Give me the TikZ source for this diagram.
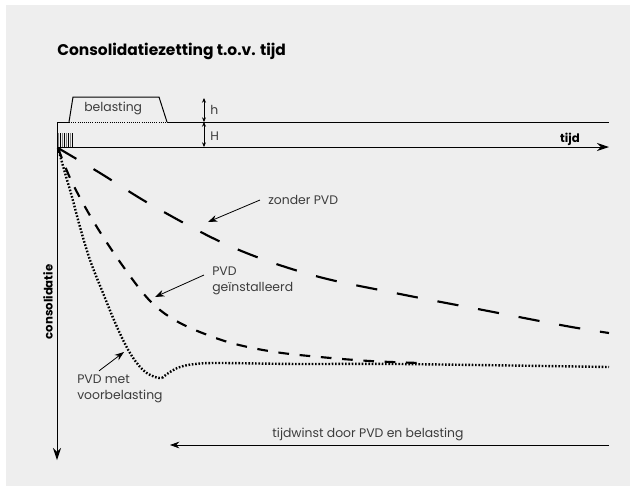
\documentclass[tikz,border=0pt]{standalone}
\usepackage{fontspec}
\setmainfont{Poppins}
\usetikzlibrary{arrows.meta}

\definecolor{bggray}{RGB}{238,238,238}
\definecolor{lblgray}{RGB}{60,60,60}
\definecolor{draingray}{RGB}{130,130,130}

\tikzset{
  lbl/.style={font=\fontsize{9.3}{11.8}\selectfont, text=lblgray, inner sep=0pt, align=left},
  axislbl/.style={font=\bfseries\fontsize{8.8}{10}\selectfont, inner sep=0pt},
  pointer/.style={-{Stealth[length=7pt,width=5pt]}, line width=0.6pt},
  dimarrow/.style={{Stealth[length=3.5pt,width=3pt]}-{Stealth[length=3.5pt,width=3pt]}, line width=0.6pt},
  axisline/.style={-{Stealth[length=9pt,width=6pt]}, line width=0.75pt},
  zonderpvd/.style={line width=1.6pt, dash pattern=on 16pt off 15pt},
  metpvd/.style={line width=1.6pt, dash pattern=on 8pt off 8pt},
  voorbel/.style={line width=1.8pt, dash pattern=on 1.2pt off 1.3pt},
}

\begin{document}
\begin{tikzpicture}[x=0.75pt,y=0.75pt,yscale=-1]
\useasboundingbox (0,0) rectangle (636,487);

%Background
\fill[bggray] (6,5) rectangle (630,486);

%Title
\node[anchor=base west, font=\bfseries\fontsize{11.6}{13}\selectfont, inner sep=0pt] (title) at (57,55) {Consolidatiezetting t.o.v. tijd};

%Axes
\coordinate (O) at (57,147);
\coordinate (tEnd) at (609,147);
\coordinate (cEnd) at (57,460);
\draw[axisline] (O) -- (tEnd);
\draw[axisline] (O) -- (cEnd);
\node[axislbl, anchor=base east] (tijd) at (580,142) {tijd};
\node[axislbl, rotate=90] (consolidatie) at (48,302) {consolidatie};

%Soil layer and belasting
\draw[line width=0.75pt] (O) -- (57,122) -- (69,122);
\draw[line width=0.75pt] (167,122) -- (609,122);
\draw[line width=0.75pt] (69,122) -- (73,97) -- (159,97) -- (167,122);
\draw[line width=0.6pt, densely dotted] (69,122) -- (167,122);
\node[lbl, anchor=west] (belasting) at (84,108) {belasting};

%Drains
\foreach \i in {0,...,7}
  \draw[line width=0.6pt, draw=\ifodd\i black\else draingray\fi] (58+2*\i,133) -- ++(0,14);

%Dimensions h and H
\coordinate (hTop) at (204,98);
\coordinate (hBot) at (204,122);
\coordinate (HBot) at (204,147);
\draw[dimarrow] (hTop) -- (hBot);
\draw[dimarrow] (hBot) -- (HBot);
\node[lbl, anchor=west] (h) at (210,110) {h};
\node[lbl, anchor=west] (H) at (210,136) {H};

%Curve: zonder PVD
\draw[zonderpvd] plot[smooth, tension=0.6] coordinates {(58,148) (100,173) (155,207) (232,247) (312,275) (395,293) (483,310) (566,326) (609,333)};

%Curve: PVD geinstalleerd
\draw[metpvd] plot[smooth, tension=0.6] coordinates {(58,148) (70,178) (84,205) (100,232) (120,262) (143,293) (160,310) (180,323) (205,334) (235,344) (275,352) (320,357) (370,361) (420,363)};

%Curve: PVD met voorbelasting
\draw[voorbel] plot[smooth, tension=0.6] coordinates {(58,148) (65,173) (72,197) (80,227) (90,260) (103,293) (117,327) (130,353) (143,370) (155,377) (162,378)};
\draw[voorbel] plot[smooth, tension=0.6] coordinates {(162,378) (170,372) (180,367) (195,364) (220,363) (300,364) (400,364) (609,367)};

%Labels with pointers
\node[lbl, anchor=west] (zonder) at (268,200) {zonder PVD};
\coordinate (zonderTip) at (208,222);
\draw[pointer] ([xshift=-6]zonder.west) -- (zonderTip);

\node[lbl, anchor=west] (gein) at (212,281) {PVD\\geïnstalleerd};
\coordinate (geinTip) at (155,297);
\draw[pointer] ([shift={(-8,-6)}]gein.west) -- (geinTip);

\node[lbl, anchor=west] (vb) at (77,389) {PVD met\\voorbelasting};
\coordinate (vbTip) at (124,352);
\draw[pointer] ([shift={(22,-4)}]vb.north west) -- (vbTip);

%Tijdwinst
\node[lbl] (winst) at (368,434) {tijdwinst door PVD en belasting};
\coordinate (winstStart) at (609,445);
\coordinate (winstEnd) at (170,445);
\draw[pointer] (winstStart) -- (winstEnd);

\end{tikzpicture}
\end{document}
